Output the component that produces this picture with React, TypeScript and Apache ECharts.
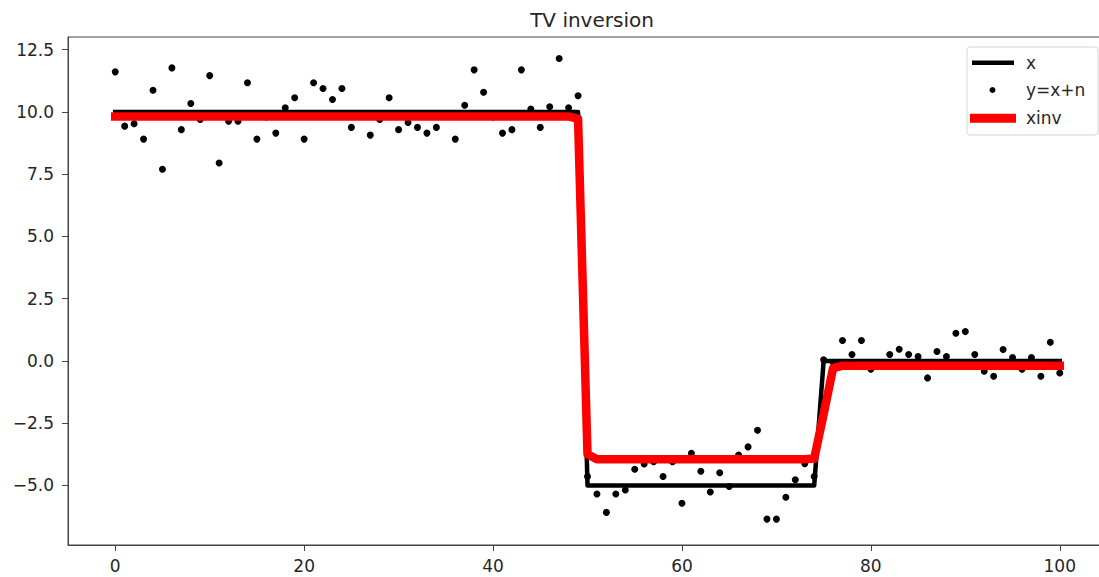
import React, { useEffect, useRef } from "react";
import * as echarts from "echarts";

const xPositions: number[] = [
  0, 1, 2, 3, 4, 5, 6, 7, 8, 9, 10, 11, 12, 13, 14, 15, 16, 17, 18, 19,
  20, 21, 22, 23, 24, 25, 26, 27, 28, 29, 30, 31, 32, 33, 34, 35, 36, 37, 38, 39,
  40, 41, 42, 43, 44, 45, 46, 47, 48, 49, 50, 51, 52, 53, 54, 55, 56, 57, 58, 59,
  60, 61, 62, 63, 64, 65, 66, 67, 68, 69, 70, 71, 72, 73, 74, 75, 76, 77, 78, 79,
  80, 81, 82, 83, 84, 85, 86, 87, 88, 89, 90, 91, 92, 93, 94, 95, 96, 97, 98, 99, 100,
];

// true signal x
const trueX: number[] = [
  10, 10, 10, 10, 10, 10, 10, 10, 10, 10, 10, 10, 10, 10, 10, 10, 10, 10, 10, 10,
  10, 10, 10, 10, 10, 10, 10, 10, 10, 10, 10, 10, 10, 10, 10, 10, 10, 10, 10, 10,
  10, 10, 10, 10, 10, 10, 10, 10, 10, 10, -5, -5, -5, -5, -5, -5, -5, -5, -5, -5,
  -5, -5, -5, -5, -5, -5, -5, -5, -5, -5, -5, -5, -5, -5, -5, 0, 0, 0, 0, 0,
  0, 0, 0, 0, 0, 0, 0, 0, 0, 0, 0, 0, 0, 0, 0, 0, 0, 0, 0, 0, 0,
];

// noisy observation y = x + n
const noisyY: number[] = [
  11.61, 9.43, 9.53, 8.91, 10.87, 7.7, 11.77, 9.29, 10.34, 9.7,
  11.46, 7.95, 9.63, 9.63, 11.17, 8.91, 9.8, 9.15, 10.17, 10.57,
  8.91, 11.17, 10.94, 10.5, 10.94, 9.38, 9.9, 9.07, 9.7, 10.57,
  9.29, 9.58, 9.38, 9.15, 9.38, 9.9, 8.91, 10.27, 11.69, 10.79,
  9.8, 9.15, 9.29, 11.69, 10.12, 9.38, 10.21, 12.15, 10.17, 10.65,
  -4.64, -5.34, -6.08, -5.34, -5.18, -4.35, -4.14, -4.05, -4.64, -4.05,
  -5.71, -3.71, -4.43, -5.26, -4.49, -5.04, -3.78, -3.45, -2.78, -6.35,
  -6.35, -5.47, -4.77, -4.13, -4.64, 0.05, -0.05, 0.82, 0.26, 0.82,
  -0.33, -0.1, 0.26, 0.47, 0.26, 0.18, -0.68, 0.38, 0.18, 1.11,
  1.18, 0.26, -0.41, -0.61, 0.46, 0.14, -0.33, 0.14, -0.61, 0.75,
  -0.48,
];

// TV inversion result
const xInv: number[] = [
  9.82, 9.82, 9.82, 9.82, 9.82, 9.82, 9.82, 9.82, 9.82, 9.82,
  9.82, 9.82, 9.82, 9.82, 9.82, 9.82, 9.82, 9.82, 9.82, 9.82,
  9.82, 9.82, 9.82, 9.82, 9.82, 9.82, 9.82, 9.82, 9.82, 9.82,
  9.82, 9.82, 9.82, 9.82, 9.82, 9.82, 9.82, 9.82, 9.82, 9.82,
  9.82, 9.82, 9.82, 9.82, 9.82, 9.82, 9.82, 9.82, 9.82, 9.72,
  -3.75, -3.95, -3.95, -3.95, -3.95, -3.95, -3.95, -3.95, -3.95, -3.95,
  -3.95, -3.95, -3.95, -3.95, -3.95, -3.95, -3.95, -3.95, -3.95, -3.95,
  -3.95, -3.95, -3.95, -3.95, -3.92, -2.13, -0.29, -0.19, -0.19, -0.19,
  -0.19, -0.19, -0.19, -0.19, -0.19, -0.19, -0.19, -0.19, -0.19, -0.19,
  -0.19, -0.19, -0.19, -0.19, -0.19, -0.19, -0.19, -0.19, -0.19, -0.19,
  -0.19,
];

const xTicks: number[] = [0, 20, 40, 60, 80, 100];
const yTicks: number[] = [-5, -2.5, 0, 2.5, 5, 7.5, 10, 12.5];

const seriesNames = ["x", "y=x+n", "xinv"];
const titleText = "TV inversion";

const FONT = "DejaVu Sans";
const TEXT_COLOR = "#262626";
const SPINE = "#444";

export default function App() {
  const ref = useRef<HTMLDivElement>(null);

  useEffect(() => {
    if (!ref.current) return;
    const chart = echarts.init(ref.current, undefined, { renderer: "svg" });
    const pair = (ys: number[]) => xPositions.map((x, i) => [x, ys[i]]);
    const fmtY = (v: number) => v.toFixed(1).replace("-", "\u2212");

    const legendX = 967;
    const legendY = 47;
    const rowY = [62.7, 90, 118.3];

    chart.setOption({
      animation: false,
      backgroundColor: "#ffffff",
      title: {
        text: titleText,
        left: 587,
        top: 5,
        textAlign: "center",
        textStyle: { fontFamily: FONT, fontSize: 20, fontWeight: "normal", color: TEXT_COLOR },
      },
      grid: {
        left: 68,
        top: 37,
        width: 1039,
        height: 508,
        show: true,
        borderColor: SPINE,
        borderWidth: 1,
        backgroundColor: "transparent",
        containLabel: false,
        outerBoundsMode: "none",
      },
      xAxis: {
        type: "value",
        min: -5,
        max: 105,
        splitLine: { show: false },
        axisLine: { show: true, onZero: false, lineStyle: { color: SPINE, width: 1 } },
        axisTick: {
          show: true,
          inside: false,
          length: 6,
          customValues: xTicks,
          lineStyle: { color: SPINE },
        },
        axisLabel: {
          customValues: xTicks,
          margin: 12,
          fontFamily: FONT,
          fontSize: 17,
          color: TEXT_COLOR,
          formatter: (v: number) => String(v),
        },
      },
      yAxis: {
        type: "value",
        min: -7.39,
        max: 13.01,
        splitLine: { show: false },
        axisLine: { show: true, onZero: false, lineStyle: { color: SPINE, width: 1 } },
        axisTick: {
          show: true,
          inside: false,
          length: 6,
          customValues: yTicks,
          lineStyle: { color: SPINE },
        },
        axisLabel: {
          customValues: yTicks,
          margin: 14,
          fontFamily: FONT,
          fontSize: 17,
          color: TEXT_COLOR,
          formatter: (v: number) => fmtY(v),
        },
      },
      series: [
        {
          name: seriesNames[0],
          type: "line",
          data: pair(trueX),
          showSymbol: false,
          symbol: "none",
          lineStyle: { color: "#000000", width: 4.5, cap: "square", join: "round" },
          z: 2,
        },
        {
          name: seriesNames[1],
          type: "scatter",
          data: pair(noisyY),
          symbol: "circle",
          symbolSize: 7,
          itemStyle: { color: "#000000", opacity: 1 },
          z: 3,
        },
        {
          name: seriesNames[2],
          type: "line",
          data: pair(xInv),
          showSymbol: false,
          symbol: "none",
          lineStyle: { color: "#ff0000", width: 8.5, cap: "square", join: "round" },
          z: 4,
        },
      ],
      graphic: [
        {
          type: "group",
          z: 100,
          children: [
            {
              type: "rect",
              shape: { x: legendX, y: legendY, width: 131, height: 88, r: 3 },
              style: { fill: "rgba(255,255,255,0.8)", stroke: "#d6d6d6", lineWidth: 1 },
            },
            {
              type: "line",
              shape: { x1: 972, y1: rowY[0], x2: 1014, y2: rowY[0] },
              style: { stroke: "#000000", lineWidth: 4.5 },
            },
            {
              type: "circle",
              shape: { cx: 992.5, cy: rowY[1], r: 3 },
              style: { fill: "#000000" },
            },
            {
              type: "line",
              shape: { x1: 970, y1: rowY[2], x2: 1016, y2: rowY[2] },
              style: { stroke: "#ff0000", lineWidth: 9 },
            },
            ...seriesNames.map((name, i) => ({
              type: "text",
              x: 1026,
              y: rowY[i],
              style: {
                text: name,
                fontFamily: FONT,
                fontSize: 17,
                fill: TEXT_COLOR,
                textVerticalAlign: "middle",
                verticalAlign: "middle",
              },
            })),
          ],
        },
      ],
    });

    return () => {
      chart.dispose();
    };
  }, []);

  return (
    <div
      ref={ref}
      style={{ position: "fixed", left: 0, top: 0, width: 1099, height: 577, background: "#fff" }}
    />
  );
}
